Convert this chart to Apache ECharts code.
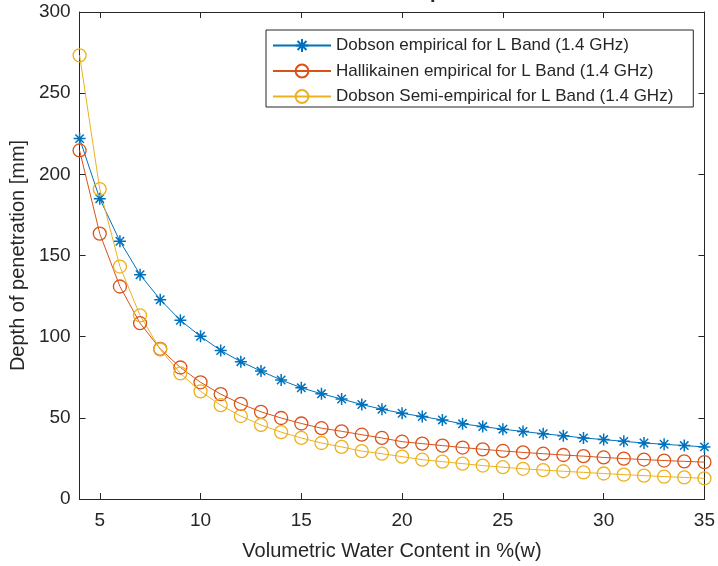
<!DOCTYPE html>
<html><head><meta charset="utf-8">
<script src="https://cdn.jsdelivr.net/npm/echarts@6/dist/echarts.min.js"></script>
<style>html,body{margin:0;padding:0;background:#fff}#c{width:718px;height:566px}</style>
</head><body><div id="c"></div>
<script>
var waterContent = [4,5,6,7,8,9,10,11,12,13,14,15,16,17,18,19,20,21,22,23,24,25,26,27,28,29,30,31,32,33,34,35];
var dobsonEmpirical = [222,185,158.8,138.2,122.8,110.1,100.2,91.5,84.6,78.8,73.3,68.5,64.8,61.6,58.2,55.3,52.8,50.8,48.7,46.3,44.6,43.0,41.6,40.2,39.0,37.6,36.6,35.5,34.5,33.7,32.9,32.1];
var hallikainenEmpirical = [214.7,163.5,130.9,108.3,92.5,81,71.9,64.6,58.6,53.7,49.9,46.5,43.6,41.7,39.6,37.6,35.3,34.1,32.9,31.7,30.6,29.6,28.7,27.9,27.1,26.4,25.6,24.9,24.3,23.7,23.2,22.7];
var dobsonSemiEmpirical = [273.3,190.9,143.2,113.1,92.1,77.4,66.3,57.8,51.1,45.6,41.2,37.6,34.5,32.1,29.5,27.9,26.1,24.2,23.0,21.8,20.6,19.6,18.6,17.8,17.1,16.4,15.7,15.0,14.4,13.8,13.3,12.7];
var xTicks = [5,10,15,20,25,30,35];
var seriesNames = ['Dobson empirical for L Band (1.4 GHz)','Hallikainen empirical for L Band (1.4 GHz)','Dobson Semi-empirical for L Band (1.4 GHz)'];
var titleText = 'Penetration depth';
var xLabel = 'Volumetric Water Content in %(w)';
var yLabel = 'Depth of penetration [mm]';

function pairs(xs, ys){ return xs.map(function(x,i){ return [x, ys[i]]; }); }
var FONT = '"Liberation Sans", Arial, Helvetica, sans-serif';
var AX = '#262626';
var star = 'path://M0,5L10,5M5,0L5,10M1.5,1.5L8.5,8.5M1.5,8.5L8.5,1.5';

var chart = echarts.init(document.getElementById('c'), null, {renderer:'canvas'});
var axisCommon = {
  axisLine:{show:true,onZero:false,lineStyle:{color:AX,width:1}},
  splitLine:{show:false}
};
chart.setOption({
  animation:false,
  backgroundColor:'#fff',
  title:{text:titleText,left:291,top:-18,padding:0,textStyle:{fontFamily:FONT,fontSize:20,fontWeight:'bold',color:AX}},
  grid:{left:76,right:12,top:12,bottom:59,containLabel:false},
  legend:{
    orient:'vertical',left:266,top:30,
    padding:[7,20,2,6],itemGap:8.5,itemWidth:58,itemHeight:16,
    borderColor:AX,borderWidth:1,backgroundColor:'#fff',
    textStyle:{fontFamily:FONT,fontSize:17,color:AX},
    data:seriesNames
  },
  xAxis:[
    Object.assign({type:'value',min:4,max:35,position:'bottom',
      name:xLabel,nameLocation:'middle',nameGap:42,
      nameTextStyle:{fontFamily:FONT,fontSize:20,color:AX},
      axisTick:{show:true,inside:true,length:6,customValues:xTicks,lineStyle:{color:AX}},
      axisLabel:{show:true,margin:12,fontFamily:FONT,fontSize:19,color:AX,customValues:xTicks}
    }, axisCommon),
    Object.assign({type:'value',min:4,max:35,position:'top',
      axisTick:{show:true,inside:true,length:6,customValues:xTicks,lineStyle:{color:AX}},
      axisLabel:{show:false}
    }, axisCommon)
  ],
  yAxis:[
    Object.assign({type:'value',min:0,max:300,interval:50,position:'left',
      name:yLabel,nameLocation:'middle',nameGap:41,nameRotate:90,
      nameTextStyle:{fontFamily:FONT,fontSize:20,color:AX},
      axisTick:{show:true,inside:true,length:6,lineStyle:{color:AX}},
      axisLabel:{show:true,margin:9,fontFamily:FONT,fontSize:19,color:AX}
    }, axisCommon),
    Object.assign({type:'value',min:0,max:300,interval:50,position:'right',
      axisTick:{show:true,inside:true,length:6,lineStyle:{color:AX}},
      axisLabel:{show:false}
    }, axisCommon)
  ],
  series:[
    {name:seriesNames[0],type:'line',data:pairs(waterContent,dobsonEmpirical),
     symbol:star,symbolSize:12,showAllSymbol:true,
     lineStyle:{color:'#0072BD',width:1},
     itemStyle:{color:'#0072BD',borderColor:'#0072BD',borderWidth:1.5}},
    {name:seriesNames[1],type:'line',data:pairs(waterContent,hallikainenEmpirical),
     symbol:'circle',symbolSize:13,showAllSymbol:true,
     lineStyle:{color:'#D95319',width:1},
     itemStyle:{color:'rgba(0,0,0,0)',borderColor:'#D95319',borderWidth:1.3}},
    {name:seriesNames[2],type:'line',data:pairs(waterContent,dobsonSemiEmpirical),
     symbol:'circle',symbolSize:13,showAllSymbol:true,
     lineStyle:{color:'#EDB120',width:1},
     itemStyle:{color:'rgba(0,0,0,0)',borderColor:'#EDB120',borderWidth:1.3}}
  ]
});
</script></body></html>
